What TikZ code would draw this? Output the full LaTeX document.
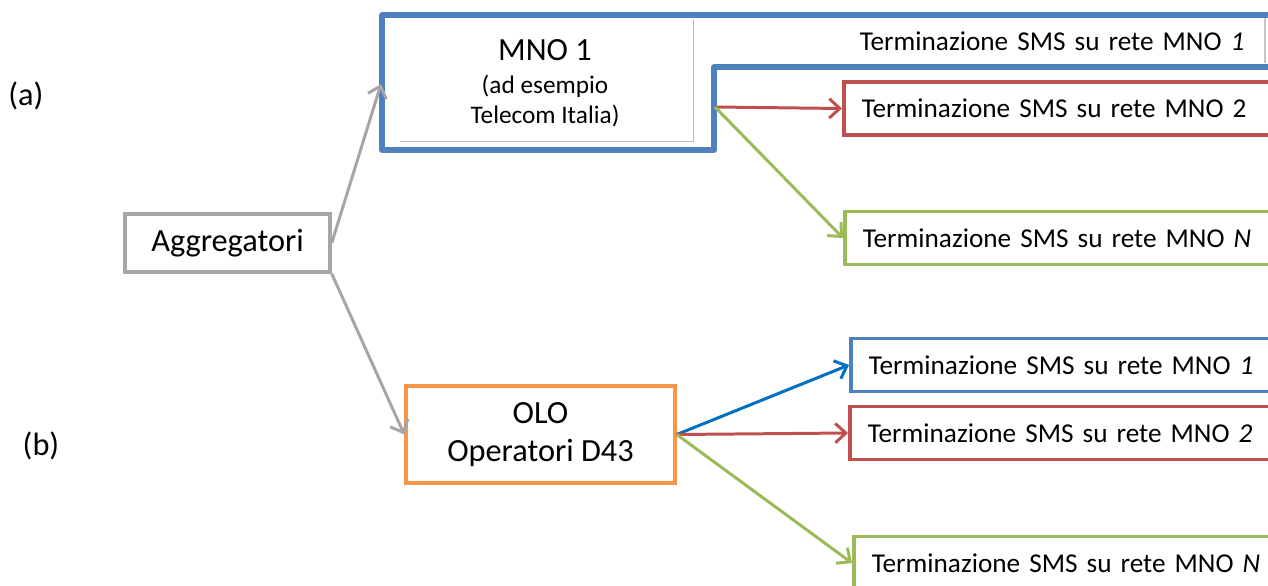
\documentclass[tikz,border=0pt]{standalone}
\usepackage{fontspec}
\setmainfont{Carlito}
\usetikzlibrary{arrows.meta}
\definecolor{oblue}{HTML}{4F81BD}
\definecolor{ored}{HTML}{C0504D}
\definecolor{ogreen}{HTML}{9BBB59}
\definecolor{oorange}{HTML}{F79646}
\definecolor{ogray}{HTML}{A6A6A6}
\definecolor{abl}{HTML}{0070C0}
\begin{document}
\begin{tikzpicture}[x=0.02cm,y=-0.02cm,
  termbox/.style={draw, line width=2pt, anchor=west, minimum height=1.06cm,
    text width=8.6cm, inner xsep=0.36cm, align=left,
    font=\fontsize{15.5}{18}\selectfont},
  bigtxt/.style={font=\fontsize{18.4}{21.6}\selectfont},
  smalltxt/.style={font=\fontsize{14.4}{17}\selectfont, anchor=base},
  arr/.style={line width=1.7pt, -{Straight Barb[length=6pt,width=11pt]}}
]
\useasboundingbox (0,0) rectangle (1268,585);
\clip (0,0) rectangle (1268,585);

% labels
\node[bigtxt] (la) at (26,96) {(a)};
\node[bigtxt] (lb) at (41,446) {(b)};

% Aggregatori
\node[bigtxt, draw=ogray, line width=2pt, minimum width=4.1cm, minimum height=1.16cm] (agg) at (227.5,243) {Aggregatori};

% MNO 1 group
\node[inner sep=0, minimum width=5.86cm, minimum height=2.42cm] (mno1) at (546.5,80.5) {};
\draw[gray!55, line width=0.6pt] (mno1.north east) -- (mno1.south east) -- (mno1.south west);
\draw[gray!45, line width=0.6pt] (1265,18) -- (1265,63);
\node[bigtxt, anchor=base] (mno1a) at (545,60) {MNO 1};
\node[smalltxt] (mno1b) at (545,93) {(ad esempio};
\node[smalltxt] (mno1c) at (545,123) {Telecom Italia)};
\node[termbox, draw=none] (t1a) at (840,41) {Terminazione SMS su rete MNO \textit{1}};
\draw[oblue, line width=3pt, line join=round]
  (1290,15) -- (382,15) -- (382,150) -- (714,150) -- (714,67) -- (1290,67);
\coordinate (m1in) at (381,84);
\coordinate (m1out) at (715,107);

\node[termbox, draw=ored] (t2a) at (842,108.5) {Terminazione SMS su rete MNO 2};
\node[termbox, draw=ogreen] (tna) at (843,238) {Terminazione SMS su rete MNO \textit{N}};

% OLO group
\node[bigtxt, draw=oorange, line width=2pt, align=center, minimum width=5.38cm, minimum height=1.94cm] (olo) at (540.5,434.5) {OLO\\Operatori D43};
\node[termbox, draw=oblue] (t1b) at (849,365) {Terminazione SMS su rete MNO \textit{1}};
\node[termbox, draw=ored] (t2b) at (848,433) {Terminazione SMS su rete MNO \textit{2}};
\node[termbox, draw=ogreen] (tnb) at (852,563) {Terminazione SMS su rete MNO \textit{N}};

% connectors
\draw[arr, ogray] (agg.east) -- (m1in);
\draw[arr, ogray] (agg.south east) -- (olo.west);
\draw[arr, ored] (m1out) -- (t2a.west);
\draw[arr, ogreen] (m1out) -- (tna.west);
\draw[arr, abl] (olo.east) -- (t1b.west);
\draw[arr, ored] (olo.east) -- (t2b.west);
\draw[arr, ogreen] (olo.east) -- (tnb.west);
\end{tikzpicture}
\end{document}
